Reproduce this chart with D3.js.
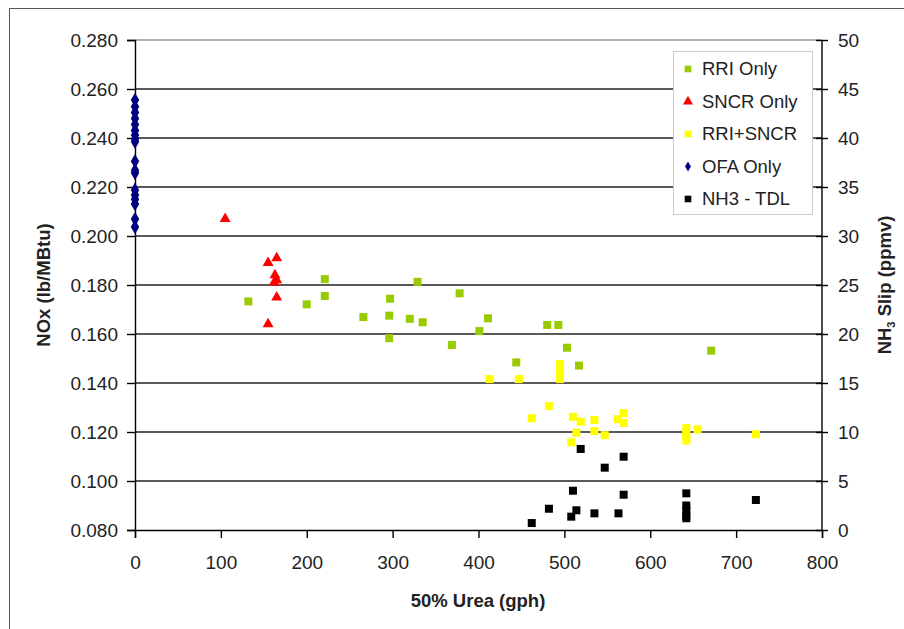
<!DOCTYPE html>
<html>
<head>
<meta charset="utf-8">
<script src="https://cdn.jsdelivr.net/npm/d3@7"></script>
<style>
  body { margin: 0; background: #fff; }
  svg { display: block; font-family: "Liberation Sans", Arial, sans-serif; }
</style>
</head>
<body>
<svg id="chart" width="904" height="629"></svg>
<script>
// 50% Urea (gph) vs NOx (lb/MBtu) -- NH3 slip on the right axis
const ofaNox = [0.2555, 0.2528, 0.2504, 0.2480, 0.2455, 0.2431, 0.2412, 0.2396, 0.2385,
                0.2305, 0.2268, 0.2257, 0.2188, 0.2167, 0.2150, 0.2131, 0.2069, 0.2037]

const sncrOnly = [[105, 0.207], [155, 0.189], [165, 0.191], [163, 0.184], [165, 0.182],
                  [162, 0.181], [165, 0.175], [155, 0.164]]

const rriOnly = [[132, 0.1733], [200, 0.1721], [221, 0.1824], [221, 0.1755], [266, 0.1669],
                 [296, 0.1675], [297, 0.1744], [296, 0.1583], [320, 0.1662], [335, 0.1648],
                 [329, 0.1813], [378, 0.1766], [401, 0.1612], [411, 0.1664], [369, 0.1555],
                 [480, 0.1637], [493, 0.1637], [503, 0.1544], [444, 0.1484], [517, 0.1471],
                 [671, 0.1532]]

const rriSncr = [[413, 0.1416], [447, 0.1416], [495, 0.1478], [495, 0.1457], [495, 0.1437],
                 [495, 0.1416], [462, 0.1256], [482, 0.1306], [510, 0.1262], [519, 0.1242],
                 [535, 0.1249], [535, 0.1204], [514, 0.1197], [547, 0.1187], [508, 0.1158],
                 [562, 0.1252], [569, 0.1277], [569, 0.1237], [642, 0.1216], [642, 0.1195],
                 [642, 0.1178], [642, 0.1165], [655, 0.1211], [723, 0.1191]]

// NH3 - TDL, ppmv (right axis)
const nh3Tdl = [[519, 8.27], [569, 7.48], [547, 6.36], [510, 4.01], [569, 3.60], [482, 2.17],
                [514, 2.01], [508, 1.36], [535, 1.70], [563, 1.70], [462, 0.71], [642, 3.74],
                [642, 2.5], [642, 2.0], [642, 1.5], [642, 1.2], [723, 3.06]]

const xTicks = [0, 100, 200, 300, 400, 500, 600, 700, 800]
const noxTicks = [0.08, 0.10, 0.12, 0.14, 0.16, 0.18, 0.20, 0.22, 0.24, 0.26, 0.28]
const slipTicks = [0, 5, 10, 15, 20, 25, 30, 35, 40, 45, 50]

const legendItems = [
  { name: 'RRI Only', color: '#99cc00', shape: 'square' },
  { name: 'SNCR Only', color: '#ff0000', shape: 'triangle' },
  { name: 'RRI+SNCR', color: '#ffff00', shape: 'square' },
  { name: 'OFA Only', color: '#000080', shape: 'diamond' },
  { name: 'NH3 - TDL', color: '#000000', shape: 'square' }
]

const margin = { left: 135, right: 822, top: 40, bottom: 530 }

const x = d3.scaleLinear().domain([0, 800]).range([margin.left, margin.right])
const y = d3.scaleLinear().domain([0.08, 0.28]).range([margin.bottom, margin.top])
const y2 = d3.scaleLinear().domain([0, 50]).range([margin.bottom, margin.top])

const svg = d3.select('#chart')

// outer chart frame (runs off the right and bottom of the picture)
svg.append('path')
  .attr('d', 'M9.5,640 V8.5 H910')
  .attr('fill', 'none')
  .attr('stroke', '#555')
  .attr('stroke-width', 1)

// gridlines
svg.append('g')
  .selectAll('line')
  .data(noxTicks.slice(1))
  .join('line')
  .attr('x1', margin.left)
  .attr('x2', margin.right)
  .attr('y1', d => y(d))
  .attr('y2', d => y(d))
  .attr('stroke', d => d === 0.28 ? '#999' : '#222')
  .attr('stroke-width', 1.4)

const fontSize = 19

// left axis
const leftAxis = svg.append('g')
  .attr('transform', `translate(${margin.left},0)`)
  .call(d3.axisLeft(y).tickValues(noxTicks).tickFormat(d3.format('.3f')).tickSize(8).tickPadding(9))
leftAxis.select('.domain').attr('stroke', '#000').attr('stroke-width', 1.4)
leftAxis.selectAll('.tick line').attr('stroke', '#000').attr('stroke-width', 1.4)
leftAxis.selectAll('text').attr('font-size', fontSize).attr('fill', '#222').attr('font-family', null)

// bottom axis
const bottomAxis = svg.append('g')
  .attr('transform', `translate(0,${margin.bottom})`)
  .call(d3.axisBottom(x).tickValues(xTicks).tickSize(8).tickPadding(18))
bottomAxis.select('.domain').attr('stroke', '#000').attr('stroke-width', 1.4)
bottomAxis.selectAll('.tick line').attr('stroke', '#000').attr('stroke-width', 1.4)
bottomAxis.selectAll('text').attr('font-size', fontSize).attr('fill', '#222').attr('font-family', null)

// right axis, ticks cross the line
const rightAxis = svg.append('g')
  .attr('transform', `translate(${margin.right},0)`)
  .call(d3.axisRight(y2).tickValues(slipTicks).tickSize(6).tickPadding(10))
rightAxis.select('.domain').attr('stroke', '#000').attr('stroke-width', 1.4)
rightAxis.selectAll('.tick line').attr('x1', -6).attr('stroke', '#000').attr('stroke-width', 1.4)
rightAxis.selectAll('text').attr('font-size', fontSize).attr('fill', '#222').attr('font-family', null)
rightAxis.selectAll('.domain').attr('d', `M0,${margin.top}V${margin.bottom}`)

// axis titles
const titleSize = 18.5

svg.append('text')
  .attr('transform', `translate(50,${(margin.top + margin.bottom) / 2}) rotate(-90)`)
  .attr('text-anchor', 'middle')
  .attr('font-size', titleSize)
  .attr('font-weight', 'bold')
  .attr('fill', '#222')
  .text('NOx (lb/MBtu)')

svg.append('text')
  .attr('x', 478)
  .attr('y', 607)
  .attr('text-anchor', 'middle')
  .attr('font-size', titleSize)
  .attr('font-weight', 'bold')
  .attr('fill', '#222')
  .text('50% Urea (gph)')

const rTitle = svg.append('text')
  .attr('transform', `translate(891,${(margin.top + margin.bottom) / 2}) rotate(-90)`)
  .attr('text-anchor', 'middle')
  .attr('font-size', titleSize)
  .attr('font-weight', 'bold')
  .attr('fill', '#222')
rTitle.append('tspan').text('NH')
rTitle.append('tspan').attr('font-size', 11).attr('dy', 4).text('3')
rTitle.append('tspan').attr('dy', -4).text(' Slip (ppmv)')

// marker shapes
const sym = {
  square: d3.symbol(d3.symbolSquare, 64),
  triangle: d3.symbol(d3.symbolTriangle, 52),
  diamond: d3.symbol(d3.symbolDiamond, 62)
}

const marks = svg.append('g')

marks.selectAll('path.ofa')
  .data(ofaNox)
  .join('path')
  .attr('class', 'ofa')
  .attr('transform', d => `translate(${x(0)},${y(d)})`)
  .attr('d', sym.diamond())
  .attr('fill', '#000080')

marks.selectAll('path.sncr')
  .data(sncrOnly)
  .join('path')
  .attr('class', 'sncr')
  .attr('transform', d => `translate(${x(d[0])},${y(d[1])})`)
  .attr('d', sym.triangle())
  .attr('fill', '#ff0000')

marks.selectAll('path.rri')
  .data(rriOnly)
  .join('path')
  .attr('class', 'rri')
  .attr('transform', d => `translate(${x(d[0])},${y(d[1])})`)
  .attr('d', sym.square())
  .attr('fill', '#99cc00')

marks.selectAll('path.combo')
  .data(rriSncr)
  .join('path')
  .attr('class', 'combo')
  .attr('transform', d => `translate(${x(d[0])},${y(d[1])})`)
  .attr('d', sym.square())
  .attr('fill', '#ffff00')

marks.selectAll('path.nh3')
  .data(nh3Tdl)
  .join('path')
  .attr('class', 'nh3')
  .attr('transform', d => `translate(${x(d[0])},${y2(d[1])})`)
  .attr('d', sym.square())
  .attr('fill', '#000')

// legend
const legend = svg.append('g').attr('transform', 'translate(673,51)')
legend.append('rect')
  .attr('x', 0.5).attr('y', 0.5)
  .attr('width', 139).attr('height', 163)
  .attr('fill', '#fff')
  .attr('stroke', '#ccc')

const row = legend.selectAll('g.item')
  .data(legendItems)
  .join('g')
  .attr('class', 'item')
  .attr('transform', (d, i) => `translate(15,${18 + i * 32.5})`)

row.append('path')
  .attr('d', d => d3.symbol(d.shape === 'triangle' ? d3.symbolTriangle : d.shape === 'diamond' ? d3.symbolDiamond : d3.symbolSquare,
    d.shape === 'triangle' ? 44 : d.shape === 'diamond' ? 30 : 44)())
  .attr('fill', d => d.color)

row.append('text')
  .attr('x', 14)
  .attr('dy', '0.35em')
  .attr('font-size', 18.5)
  .attr('fill', '#222')
  .text(d => d.name)
</script>
</body>
</html>
